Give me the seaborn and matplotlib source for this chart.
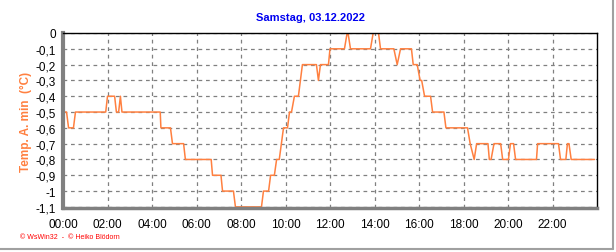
import matplotlib
matplotlib.use("Agg")
import matplotlib.pyplot as plt
import seaborn as sns
import pandas as pd
from matplotlib.lines import Line2D

# time in hours, minimum outdoor temperature in °C
hours = [0.0, 0.16, 0.25, 0.47, 0.56, 1.92, 2.0, 2.32, 2.4, 2.5, 2.58, 2.65,
         4.37, 4.4, 4.83, 4.92, 5.42, 5.5, 6.66, 6.72, 7.1, 7.17, 7.66, 7.75,
         8.92, 9.01, 9.24, 9.33, 9.5, 9.6, 9.72, 9.91, 10.09, 10.18, 10.27, 10.4,
         10.58, 10.76, 11.39, 11.48, 11.57, 11.93, 12.0, 12.65, 12.77, 12.81, 12.92,
         13.82, 13.94, 14.18, 14.27, 14.87, 15.02, 15.17, 15.66, 15.74, 15.92, 16.05,
         16.12, 16.25, 16.52, 16.61, 17.12, 17.21, 18.18, 18.3, 18.48, 18.59,
         19.1, 19.16, 19.24, 19.37, 19.67, 19.76, 20.02, 20.11, 20.25, 20.34,
         21.28, 21.33, 22.27, 22.36, 22.6, 22.67, 22.74, 22.84, 23.89]
temps = [-0.5, -0.5, -0.6, -0.6, -0.5, -0.5, -0.4, -0.4, -0.5, -0.5, -0.4, -0.5,
         -0.5, -0.6, -0.6, -0.7, -0.7, -0.8, -0.8, -0.9, -0.9, -1.0, -1.0, -1.1,
         -1.1, -1.0, -1.0, -0.9, -0.9, -0.8, -0.8, -0.6, -0.6, -0.5, -0.5, -0.4,
         -0.4, -0.2, -0.2, -0.3, -0.2, -0.2, -0.1, -0.1, 0.0, 0.0, -0.1,
         -0.1, 0.0, 0.0, -0.1, -0.1, -0.2, -0.1, -0.1, -0.2, -0.2, -0.3,
         -0.3, -0.4, -0.4, -0.5, -0.5, -0.6, -0.6, -0.7, -0.8, -0.7,
         -0.7, -0.8, -0.8, -0.7, -0.7, -0.8, -0.8, -0.7, -0.7, -0.8,
         -0.8, -0.7, -0.7, -0.8, -0.8, -0.7, -0.7, -0.8, -0.8]

yticks = [0, -0.1, -0.2, -0.3, -0.4, -0.5, -0.6, -0.7, -0.8, -0.9, -1.0, -1.1]
ytick_labels = ["0", "-0,1", "-0,2", "-0,3", "-0,4", "-0,5", "-0,6", "-0,7",
                "-0,8", "-0,9", "-1", "-1,1"]
xticks = list(range(0, 24, 2))
xtick_labels = [f"{h:02d}:00" for h in xticks]
title = "Samstag, 03.12.2022"
ylabel = "Temp. A. min  (°C)"
credit = "© WsWin32  -  © Heiko Blödorn"

sns.set_style("white")
plt.rcParams['font.family'] = ['Liberation Sans', 'DejaVu Sans']

df = pd.DataFrame({"h": hours, "t": temps})

fig = plt.figure(figsize=(6.16, 2.53), dpi=100)
ax = fig.add_axes([63 / 616, 1 - 209 / 253, (597 - 63) / 616, (209 - 34) / 253])

sns.lineplot(data=df, x="h", y="t", ax=ax, color="#FF8040", linewidth=1.1,
             estimator=None, sort=False)

ax.set_xlim(0, 24)
ax.set_ylim(-1.107, 0)
ax.set_xticks(xticks)
ax.set_xticklabels(xtick_labels, fontsize=8.5)
ax.set_xticks([x / 2 for x in range(0, 48)], minor=True)
ax.set_yticks(yticks)
ax.set_yticklabels(ytick_labels, fontsize=8.5)
ax.grid(True, which="major", color="#808080", linestyle=(0, (3, 3)), linewidth=0.9)
ax.set_axisbelow(True)

ax.tick_params(axis="x", which="major", direction="out", length=4, width=1,
               color="#808080", pad=3, labelcolor="black")
ax.tick_params(axis="x", which="minor", direction="out", length=3, width=1,
               color="#808080")
ax.tick_params(axis="y", which="major", direction="out", length=3, width=1,
               color="#808080", pad=2, labelcolor="black")

for side in ("top", "right"):
    ax.spines[side].set_visible(True)
    ax.spines[side].set_color("black")
    ax.spines[side].set_linewidth(1.0)
ax.spines["left"].set_color("#808080")
ax.spines["left"].set_linewidth(3)
ax.spines["bottom"].set_color("#808080")
ax.spines["bottom"].set_linewidth(2.5)

ax.set_xlabel("")
ax.set_ylabel(ylabel, color="#FF8040", fontsize=8.5, fontweight="bold", labelpad=3)
fig.text(310 / 616, 1 - 18 / 253, title, color="#0000F0", fontsize=8,
         fontweight="bold", ha="center", va="center")
fig.text(20 / 616, 1 - 238 / 253, credit, color="#FF0000", fontsize=5,
         ha="left", va="center")

# outer frame (gray right and bottom border)
fig.add_artist(Line2D([613 / 616, 613 / 616], [1 - 250 / 253, 1], transform=fig.transFigure,
                      color="#A0A0A0", linewidth=1.5))
fig.add_artist(Line2D([0, 613 / 616], [1 - 250 / 253, 1 - 250 / 253], transform=fig.transFigure,
                      color="#A0A0A0", linewidth=1.5))

fig.savefig("out.png", dpi=100)
